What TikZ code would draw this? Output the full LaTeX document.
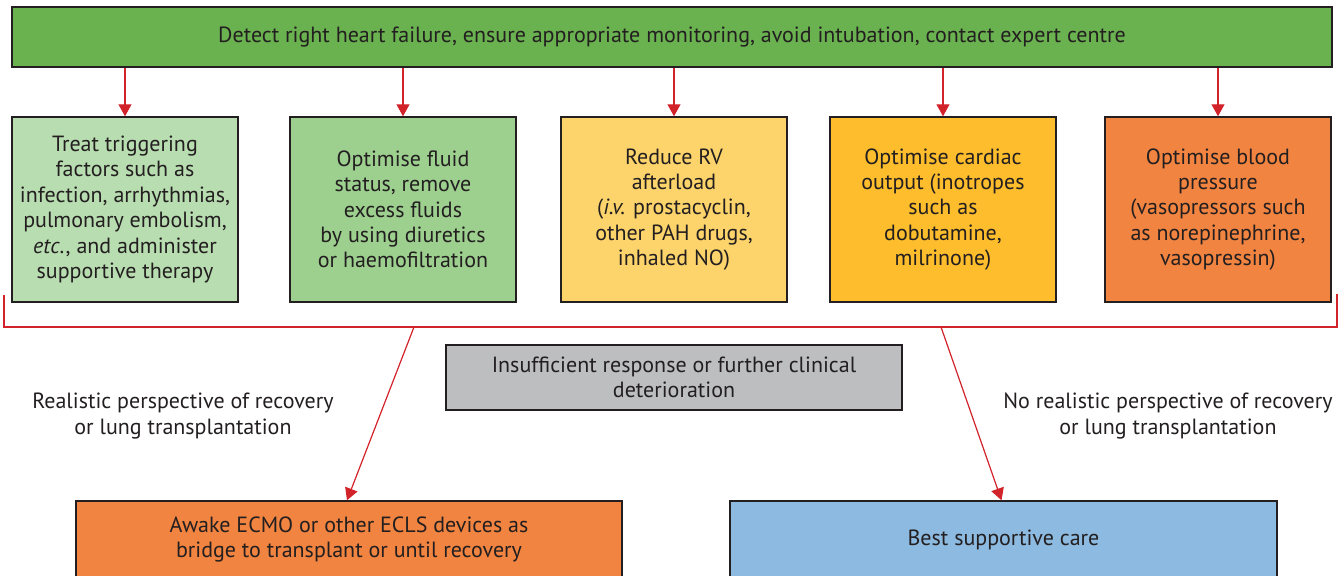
\documentclass[tikz,border=0pt]{standalone}
\usepackage{fontspec}
\setmainfont{PT Sans}
\usetikzlibrary{arrows.meta}
\definecolor{topgreen}{HTML}{6AB150}
\definecolor{palegreen}{HTML}{B8DDB0}
\definecolor{midgreen}{HTML}{9DD08F}
\definecolor{paleyellow}{HTML}{FDD46B}
\definecolor{deepyellow}{HTML}{FDBD2C}
\definecolor{boxorange}{HTML}{F18440}
\definecolor{boxgray}{HTML}{BCBEC0}
\definecolor{boxblue}{HTML}{8DBAE0}
\definecolor{linered}{HTML}{D2232A}
\definecolor{textdark}{HTML}{231F20}
\tikzset{
	box/.style={draw=textdark, line width=0.7pt, align=center, text=textdark, inner sep=2pt,
		font=\fontsize{11}{12.7}\selectfont},
	stepbox/.style={box, minimum width=113pt, minimum height=92.5pt},
	caption/.style={align=center, text=textdark, font=\fontsize{11}{12.7}\selectfont},
	redarrow/.style={draw=linered, line width=0.6pt, -{Triangle[width=6.5pt,length=6pt]}}
}

\begin{document}
\begin{tikzpicture}[x=0.5pt, y=-0.5pt]
	\useasboundingbox (0,0) rectangle (1344,576);
	\clip (0,0) rectangle (1344,576);

	\node[box, fill=topgreen, minimum width=660pt, minimum height=30pt] (detect) at (672,37)
	{Detect right heart failure, ensure appropriate monitoring, avoid intubation, contact expert centre};

	\node[stepbox, fill=palegreen] (trigger) at (125,209.5)
	{Treat triggering\\factors such as\\infection, arrhythmias,\\pulmonary embolism,\\\textit{etc}., and administer\\supportive therapy};
	\node[stepbox, fill=midgreen] (fluid) at (403,209.5)
	{Optimise fluid\\status, remove\\excess fluids\\by using diuretics\\or haemofiltration};
	\node[stepbox, fill=paleyellow] (afterload) at (674,209.5)
	{Reduce RV\\afterload\\(\textit{i.v.} prostacyclin,\\other PAH drugs,\\inhaled NO)};
	\node[stepbox, fill=deepyellow] (output) at (943,209.5)
	{Optimise cardiac\\output (inotropes\\such as\\dobutamine,\\milrinone)};
	\node[stepbox, fill=boxorange] (pressure) at (1218,209.5)
	{Optimise blood\\pressure\\(vasopressors such\\as norepinephrine,\\vasopressin)};

	\foreach \n in {trigger, fluid, afterload, output, pressure}
	\draw[redarrow] (\n.north |- detect.south) -- (\n.north);

	% bracket under the five measures
	\coordinate (brTL) at (4,295);
	\coordinate (brBL) at (4,327);
	\coordinate (brBR) at (1337,327);
	\coordinate (brTR) at (1337,294);
	\coordinate (forkL) at (414,327);
	\coordinate (forkR) at (941,327);
	\draw[linered, line width=0.6pt] (brTL) -- (brBL) -- (brBR) -- (brTR);

	\node[box, fill=boxgray, minimum width=228pt, minimum height=32.5pt] (worse) at (674,377.5)
	{Insufficient response or further clinical\\deterioration};

	\node[caption] (realistic) at (183,416)
	{Realistic perspective of recovery\\or lung transplantation};
	\node[caption] (unrealistic) at (1168,416)
	{No realistic perspective of recovery\\or lung transplantation};

	\node[box, fill=boxorange, minimum width=273pt, minimum height=38.5pt] (ecmo) at (349,539.5)
	{Awake ECMO or other ECLS devices as\\bridge to transplant or until recovery};
	\node[box, fill=boxblue, minimum width=273.5pt, minimum height=38.5pt] (care) at (1003.5,539.5)
	{Best supportive care};

	\draw[redarrow] (forkL) -- ([xshift=-1pt]ecmo.north);
	\draw[redarrow] (forkR) -- ([xshift=-1pt]care.north);
\end{tikzpicture}
\end{document}
